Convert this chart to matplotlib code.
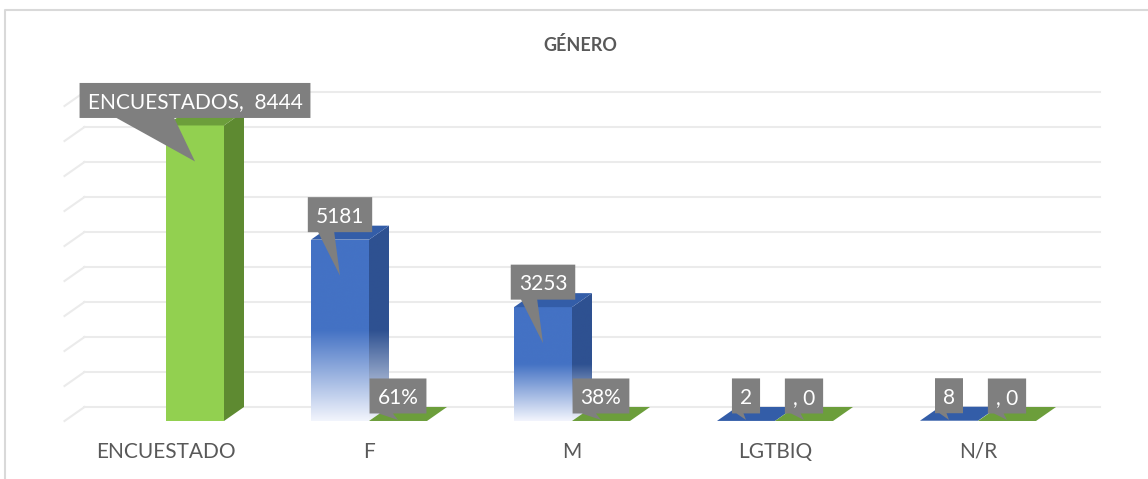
import numpy as np
import matplotlib.pyplot as plt
from matplotlib.patches import Polygon
from matplotlib.lines import Line2D
from matplotlib.colors import to_rgb

plt.rcParams['font.family'] = ['Lato', 'DejaVu Sans']

categorias = ["ENCUESTADO", "F", "M", "LGTBIQ", "N/R"]
genero = [None, 5181, 3253, 2, 8]            # serie azul
encuestados = [8444, 0.61, 0.38, 0, 0]       # serie verde
etiq_genero = [None, "5181", "3253", "2", "8"]
etiq_encuestados = ["ENCUESTADOS,  8444", "61%", "38%", ", 0", ", 0"]
grid_vals = [0, 1000, 2000, 3000, 4000, 5000, 6000, 7000, 8000, 9000]

# escala (pixeles por unidad)
W, H = 1148, 479
PX_CAT = 203.0
PX_VAL = 0.035
X0_PX = 166
Y0_PX = 421
DX = 20 / PX_CAT
DY = 14 / PX_VAL
ANCHO = 58 / PX_CAT

AZUL = ("#4472C4", "#2E5191", "#335DA8")     # frente, lado, tapa
VERDE = ("#92D050", "#5E8A31", "#6C9E3B")
GRIS_TXT = "#595959"

fig = plt.figure(figsize=(W / 100, H / 100), dpi=100)
ax = fig.add_axes([0, 0, 1, 1])
ax.axis('off')


def gradiente(poly, color, h, x0, x1, y0, y1):
    ys = np.linspace(y0, y1, 300)
    t = np.clip(ys / (0.5 * h), 0, 1)
    base = np.array(to_rgb(color))
    blanco = np.array([0.95, 0.96, 0.99])
    cols = blanco + (base - blanco) * t[:, None]
    img = cols[::-1][:, None, :]
    im = ax.imshow(img, extent=(x0, x1, y0, y1), aspect='auto', origin='upper',
                   interpolation='bilinear', zorder=3)
    im.set_clip_path(poly)


def barra(x0, h, colores, degradado=False):
    frente, lado, tapa = colores
    p_lado = Polygon([(x0 + ANCHO, 0), (x0 + ANCHO + DX, DY), (x0 + ANCHO + DX, h + DY), (x0 + ANCHO, h)],
                     closed=True, transform=ax.transData)
    p_tapa = Polygon([(x0, h), (x0 + DX, h + DY), (x0 + ANCHO + DX, h + DY), (x0 + ANCHO, h)],
                     closed=True, facecolor=tapa, edgecolor='none', zorder=3)
    p_frente = Polygon([(x0, 0), (x0, h), (x0 + ANCHO, h), (x0 + ANCHO, 0)],
                       closed=True, transform=ax.transData)
    if h > 50:
        if degradado:
            p_lado.set_visible(False)
            p_frente.set_visible(False)
            ax.add_patch(p_lado)
            ax.add_patch(p_frente)
            gradiente(p_lado, lado, h, x0 + ANCHO, x0 + ANCHO + DX, 0, h + DY)
            gradiente(p_frente, frente, h, x0, x0 + ANCHO, 0, h)
        else:
            p_lado.set(facecolor=lado, edgecolor='none', zorder=3)
            p_frente.set(facecolor=frente, edgecolor='none', zorder=3)
            ax.add_patch(p_lado)
            ax.add_patch(p_frente)
    ax.add_patch(p_tapa)


# lineas de division (pared del fondo y pared lateral)
for v in grid_vals:
    ax.plot([-0.5 + DX, len(categorias) - 0.5 + DX], [v + DY, v + DY], color="#EBEBEB", lw=1.5, zorder=1)
    ax.plot([-0.5, -0.5 + DX], [v, v + DY], color="#EBEBEB", lw=1.5, zorder=1)

for i in range(len(categorias)):
    if genero[i] is not None:
        barra(i - ANCHO, genero[i], AZUL, degradado=True)
    if encuestados[i] is not None:
        barra(i, encuestados[i], VERDE)

ax.set_xlim(-X0_PX / PX_CAT, (W - X0_PX) / PX_CAT)
ax.set_ylim(-(H - Y0_PX) / PX_VAL, Y0_PX / PX_VAL)

renderer = fig.canvas.get_renderer()


def globo(x, h, texto):
    yc = h + 25 / PX_VAL
    t = ax.text(x, yc, texto, ha='center', va='center_baseline', color='white', fontsize=15, zorder=7)
    bb = t.get_window_extent(renderer)
    wpx = bb.width + 16
    L = x - wpx / 2 / PX_CAT
    R = x + wpx / 2 / PX_CAT
    B = yc - 17.5 / PX_VAL
    T = yc + 17.5 / PX_VAL
    ancho = R - L
    tip_y = max(h - 36 / PX_VAL, 30)
    pts = [(L, T), (R, T), (R, B), (L + 0.41 * ancho, B), (x, tip_y), (L + 0.16 * ancho, B), (L, B)]
    ax.add_patch(Polygon(pts, closed=True, facecolor="#7F7F7F", edgecolor='none', zorder=6))


for i in range(len(categorias)):
    if genero[i] is not None:
        globo(i - ANCHO / 2, genero[i], etiq_genero[i])
    globo(i + ANCHO / 2, encuestados[i], etiq_encuestados[i])
    ax.text(i, -31 / PX_VAL, categorias[i], ha='center', va='center', fontsize=15, color=GRIS_TXT)

fig.text(580 / W, 1 - 45 / H, "GÉNERO", ha='center', va='center', fontsize=13, fontweight='bold', color=GRIS_TXT)

fig.add_artist(Line2D([5 / W, 5 / W, 1], [0, 1 - 10 / H, 1 - 10 / H], transform=fig.transFigure,
                      color="#D9D9D9", lw=1.5))

fig.savefig("out.png", dpi=100)
